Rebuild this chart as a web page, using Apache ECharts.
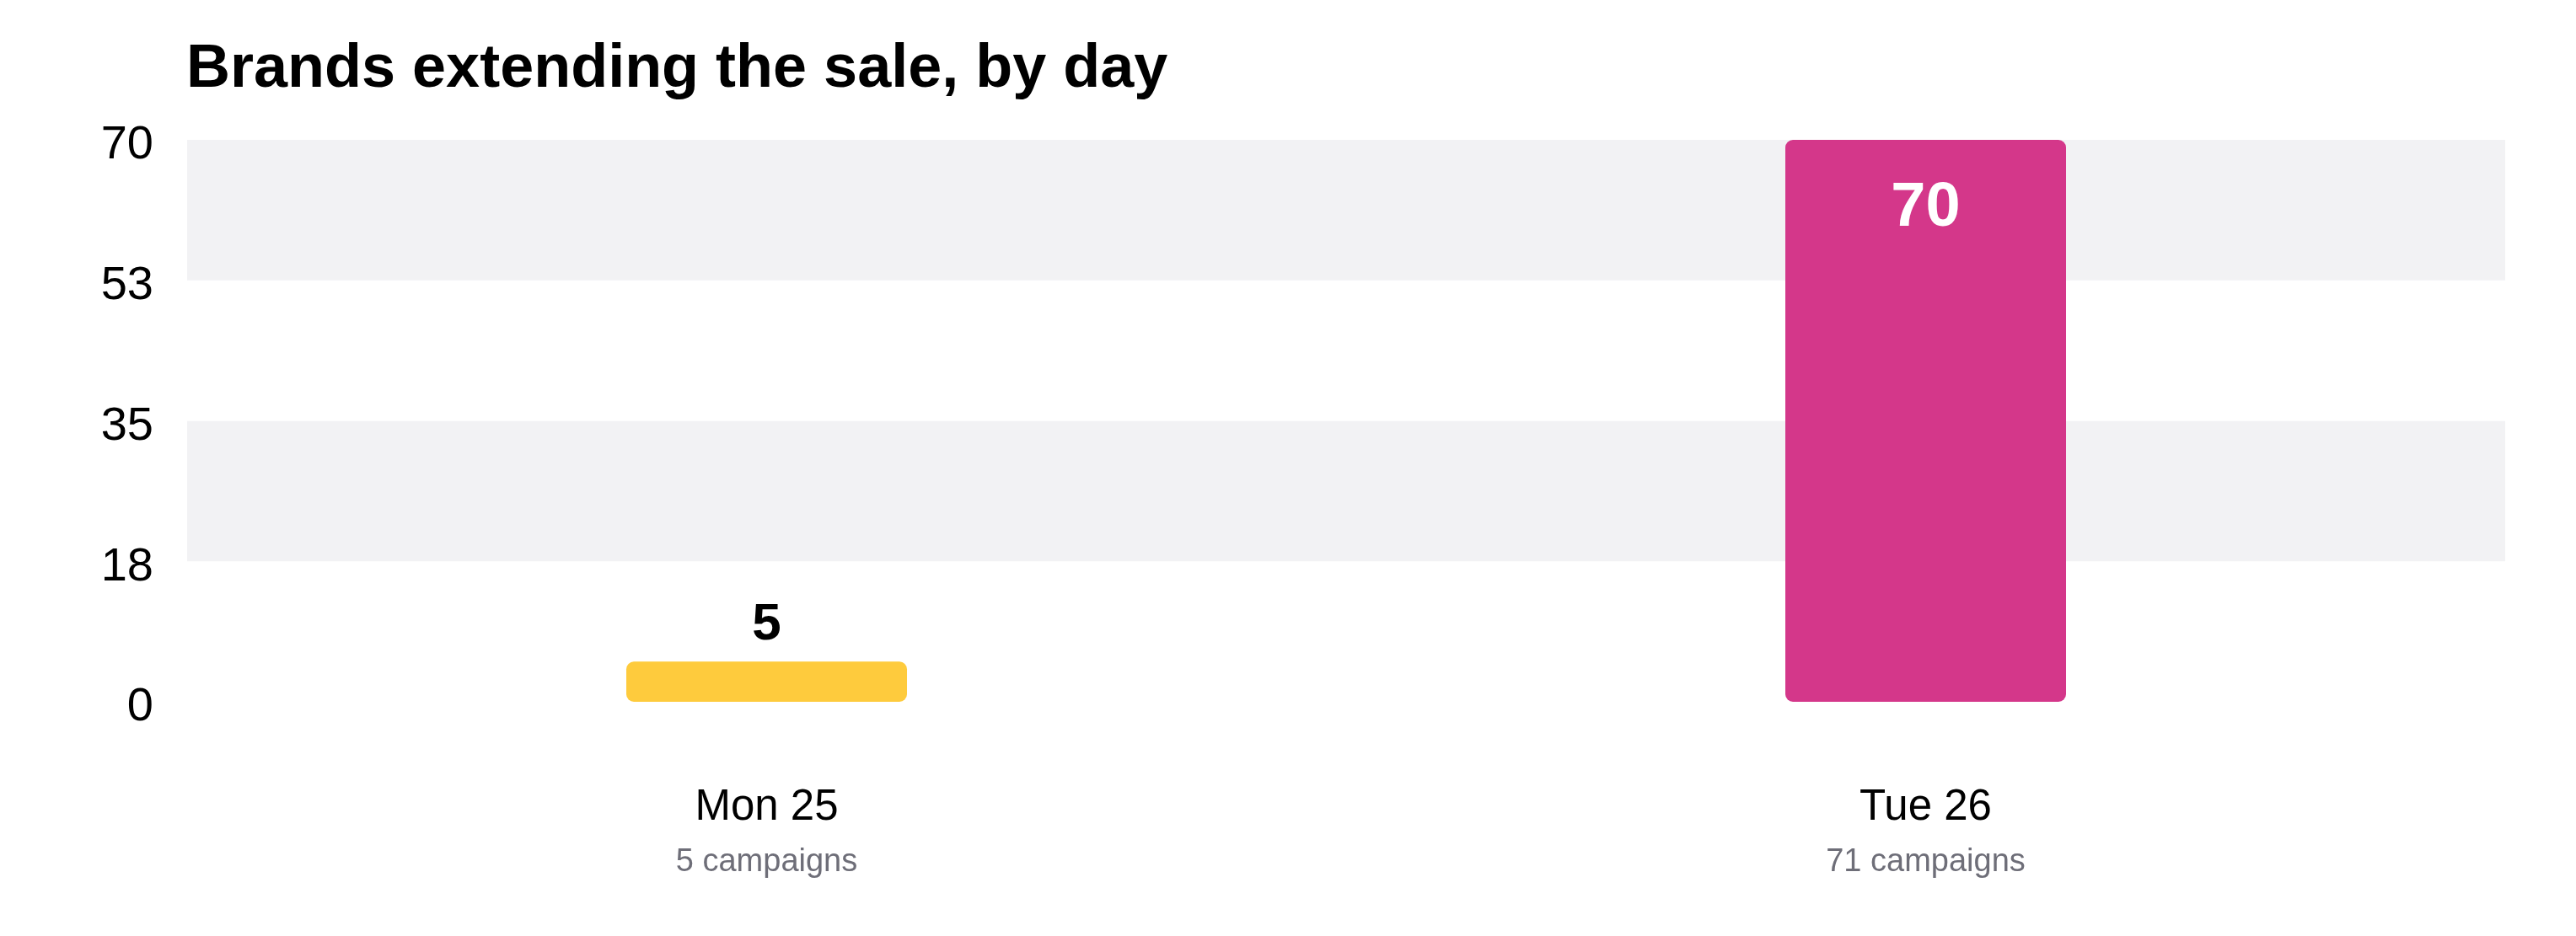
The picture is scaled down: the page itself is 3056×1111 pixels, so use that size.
<!DOCTYPE html>
<html>
<head>
<meta charset="utf-8">
<script src="https://cdn.jsdelivr.net/npm/echarts@6/dist/echarts.min.js"></script>
<style>
  html, body { margin: 0; padding: 0; background: #fff; }
  #chart { width: 3056px; height: 1111px; }
</style>
</head>
<body>
<div id="chart"></div>
<script>
// data
const days = ["Mon 25", "Tue 26"];
const campaigns = [5, 71];
const brands = [5, 70];
const barColors = ["#FECB3D", "#D4378A"];

const FONT = "'Liberation Sans', Arial, Helvetica, sans-serif";

const chart = echarts.init(document.getElementById("chart"));

const option = {
  backgroundColor: "#fff",
  animation: false,
  title: {
    text: "Brands extending the sale, by day",
    left: 216,
    top: 42,
    textStyle: {
      fontFamily: FONT,
      fontSize: 72,
      fontWeight: "bold",
      color: "#000",
    },
  },
  grid: {
    left: 222,
    right: 84,
    top: 166,
    bottom: 278,
  },
  xAxis: {
    type: "category",
    data: days,
    axisLine: { show: false },
    axisTick: { show: false },
    axisLabel: {
      margin: 93,
      fontFamily: FONT,
      formatter: (value, idx) =>
        "{day|" + value + "}\n{sub|" + campaigns[idx] + " campaigns}",
      rich: {
        day: { fontFamily: FONT, fontSize: 51, color: "#000", lineHeight: 65 },
        sub: { fontFamily: FONT, fontSize: 38, color: "#6e6e78", lineHeight: 65 },
      },
    },
  },
  yAxis: {
    type: "value",
    min: 0,
    max: 70,
    interval: 17.5,
    axisLine: { show: false },
    axisTick: { show: false },
    splitLine: { show: false },
    splitArea: {
      show: true,
      areaStyle: { color: ["#ffffff", "#F2F2F4"] },
    },
    axisLabel: {
      margin: 40,
      formatter: (v) => "{n|" + Math.round(v) + "}",
      rich: {
        // 往下挪一点，跟原图对齐
        n: {
          fontFamily: FONT,
          fontSize: 56,
          color: "#000",
          padding: [14, 0, 0, 0],
        },
      },
    },
  },
  series: [
    {
      type: "bar",
      barWidth: 333,
      data: brands.map((v, i) => {
        // 大柱子把数字放在里面，小柱子放在上面
        const inside = v > 35;
        return {
          value: v,
          itemStyle: { color: barColors[i], borderRadius: 9 },
          label: inside
            ? {
                show: true,
                position: "insideTop",
                distance: 45,
                color: "#fff",
                fontSize: 74,
                fontWeight: "bold",
                fontFamily: FONT,
              }
            : {
                show: true,
                position: "top",
                distance: 12,
                color: "#000",
                fontSize: 62,
                fontWeight: "bold",
                fontFamily: FONT,
              },
        };
      }),
    },
  ],
};

chart.setOption(option);
</script>
</body>
</html>
